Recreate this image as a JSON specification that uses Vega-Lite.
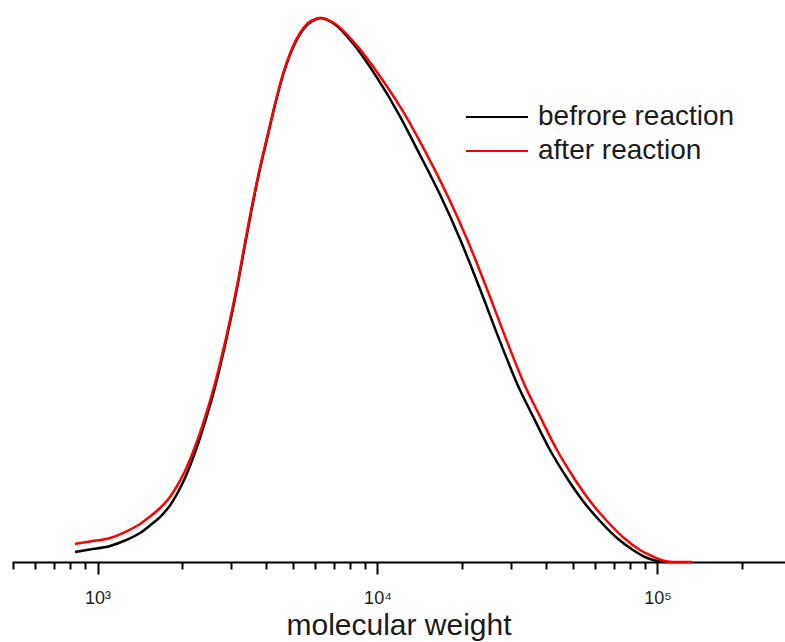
{
  "$schema": "https://vega.github.io/schema/vega-lite/v6.json",
  "width": 773,
  "height": 544,
  "autosize": {"type": "none"},
  "padding": {"left": 12, "top": 18, "right": 0, "bottom": 80},
  "background": "white",
  "config": {"view": {"stroke": null}, "font": "Liberation Sans"},
  "data": {"values": [
    {"s": "befrore reaction", "mw": 831, "v": 0.0184},
    {"s": "befrore reaction", "mw": 939.5, "v": 0.0230},
    {"s": "befrore reaction", "mw": 1108.3, "v": 0.0294},
    {"s": "befrore reaction", "mw": 1253.6, "v": 0.0395},
    {"s": "befrore reaction", "mw": 1418.4, "v": 0.0533},
    {"s": "befrore reaction", "mw": 1539.9, "v": 0.0671},
    {"s": "befrore reaction", "mw": 1671.9, "v": 0.0827},
    {"s": "befrore reaction", "mw": 1815.2, "v": 0.1039},
    {"s": "befrore reaction", "mw": 1922.8, "v": 0.125},
    {"s": "befrore reaction", "mw": 2053.5, "v": 0.1544},
    {"s": "befrore reaction", "mw": 2193.2, "v": 0.1912},
    {"s": "befrore reaction", "mw": 2323.1, "v": 0.2279},
    {"s": "befrore reaction", "mw": 2460.8, "v": 0.2693},
    {"s": "befrore reaction", "mw": 2606.6, "v": 0.3143},
    {"s": "befrore reaction", "mw": 2738.4, "v": 0.3585},
    {"s": "befrore reaction", "mw": 2876.9, "v": 0.4063},
    {"s": "befrore reaction", "mw": 3022.4, "v": 0.4577},
    {"s": "befrore reaction", "mw": 3175.3, "v": 0.5129},
    {"s": "befrore reaction", "mw": 3335.9, "v": 0.5735},
    {"s": "befrore reaction", "mw": 3504.7, "v": 0.6324},
    {"s": "befrore reaction", "mw": 3743.0, "v": 0.7059},
    {"s": "befrore reaction", "mw": 4030.5, "v": 0.7776},
    {"s": "befrore reaction", "mw": 4304.6, "v": 0.8401},
    {"s": "befrore reaction", "mw": 4597.3, "v": 0.8952},
    {"s": "befrore reaction", "mw": 4909.9, "v": 0.9375},
    {"s": "befrore reaction", "mw": 5287.1, "v": 0.9706},
    {"s": "befrore reaction", "mw": 5646.6, "v": 0.9890},
    {"s": "befrore reaction", "mw": 6080.4, "v": 0.9982},
    {"s": "befrore reaction", "mw": 6232.2, "v": 1.0},
    {"s": "befrore reaction", "mw": 6935.4, "v": 0.9908},
    {"s": "befrore reaction", "mw": 8175.2, "v": 0.9533},
    {"s": "befrore reaction", "mw": 9959, "v": 0.8903},
    {"s": "befrore reaction", "mw": 12032.5, "v": 0.8193},
    {"s": "befrore reaction", "mw": 13837.9, "v": 0.7590},
    {"s": "befrore reaction", "mw": 16719.2, "v": 0.6754},
    {"s": "befrore reaction", "mw": 19708, "v": 0.5938},
    {"s": "befrore reaction", "mw": 23231, "v": 0.5018},
    {"s": "befrore reaction", "mw": 27384, "v": 0.4055},
    {"s": "befrore reaction", "mw": 31493, "v": 0.3283},
    {"s": "befrore reaction", "mw": 35922, "v": 0.2676},
    {"s": "befrore reaction", "mw": 41312, "v": 0.2059},
    {"s": "befrore reaction", "mw": 47510, "v": 0.1544},
    {"s": "befrore reaction", "mw": 54191, "v": 0.1121},
    {"s": "befrore reaction", "mw": 62322, "v": 0.0754},
    {"s": "befrore reaction", "mw": 71673, "v": 0.0441},
    {"s": "befrore reaction", "mw": 81752, "v": 0.0221},
    {"s": "befrore reaction", "mw": 90231, "v": 0.0092},
    {"s": "befrore reaction", "mw": 97965, "v": 0.0028},
    {"s": "befrore reaction", "mw": 106361, "v": 0.0},
    {"s": "after reaction", "mw": 831, "v": 0.0331},
    {"s": "after reaction", "mw": 939.5, "v": 0.0377},
    {"s": "after reaction", "mw": 1108.3, "v": 0.0441},
    {"s": "after reaction", "mw": 1253.6, "v": 0.0551},
    {"s": "after reaction", "mw": 1418.4, "v": 0.0699},
    {"s": "after reaction", "mw": 1539.9, "v": 0.0836},
    {"s": "after reaction", "mw": 1671.9, "v": 0.0993},
    {"s": "after reaction", "mw": 1815.2, "v": 0.1195},
    {"s": "after reaction", "mw": 1922.8, "v": 0.1397},
    {"s": "after reaction", "mw": 2053.5, "v": 0.1673},
    {"s": "after reaction", "mw": 2193.2, "v": 0.2022},
    {"s": "after reaction", "mw": 2323.1, "v": 0.2371},
    {"s": "after reaction", "mw": 2460.8, "v": 0.2776},
    {"s": "after reaction", "mw": 2606.6, "v": 0.3217},
    {"s": "after reaction", "mw": 2738.4, "v": 0.3649},
    {"s": "after reaction", "mw": 2876.9, "v": 0.4118},
    {"s": "after reaction", "mw": 3022.4, "v": 0.4623},
    {"s": "after reaction", "mw": 3175.3, "v": 0.5165},
    {"s": "after reaction", "mw": 3335.9, "v": 0.5772},
    {"s": "after reaction", "mw": 3504.7, "v": 0.6360},
    {"s": "after reaction", "mw": 3743.0, "v": 0.7086},
    {"s": "after reaction", "mw": 4030.5, "v": 0.7803},
    {"s": "after reaction", "mw": 4304.6, "v": 0.8419},
    {"s": "after reaction", "mw": 4597.3, "v": 0.8971},
    {"s": "after reaction", "mw": 4909.9, "v": 0.9393},
    {"s": "after reaction", "mw": 5287.1, "v": 0.9724},
    {"s": "after reaction", "mw": 5646.6, "v": 0.9908},
    {"s": "after reaction", "mw": 6080.4, "v": 0.9991},
    {"s": "after reaction", "mw": 6232.2, "v": 1.0},
    {"s": "after reaction", "mw": 6992.7, "v": 0.9908},
    {"s": "after reaction", "mw": 8310, "v": 0.9533},
    {"s": "after reaction", "mw": 10292, "v": 0.8903},
    {"s": "after reaction", "mw": 12641, "v": 0.8193},
    {"s": "after reaction", "mw": 14658, "v": 0.7590},
    {"s": "after reaction", "mw": 17710, "v": 0.6754},
    {"s": "after reaction", "mw": 20876, "v": 0.5938},
    {"s": "after reaction", "mw": 24608, "v": 0.5018},
    {"s": "after reaction", "mw": 29007, "v": 0.4055},
    {"s": "after reaction", "mw": 33359, "v": 0.3283},
    {"s": "after reaction", "mw": 38050, "v": 0.2676},
    {"s": "after reaction", "mw": 43759, "v": 0.2059},
    {"s": "after reaction", "mw": 50325, "v": 0.1544},
    {"s": "after reaction", "mw": 57402, "v": 0.1121},
    {"s": "after reaction", "mw": 66015, "v": 0.0754},
    {"s": "after reaction", "mw": 75920, "v": 0.0441},
    {"s": "after reaction", "mw": 86597, "v": 0.0221},
    {"s": "after reaction", "mw": 97163, "v": 0.0092},
    {"s": "after reaction", "mw": 104628, "v": 0.0028},
    {"s": "after reaction", "mw": 112666, "v": 0.0},
    {"s": "after reaction", "mw": 132799, "v": 0.0}
  ]},
  "encoding": {
    "x": {
      "field": "mw", "type": "quantitative",
      "scale": {"type": "log", "domain": [495, 285400], "nice": false},
      "axis": {
        "title": "molecular weight",
        "titleFont": "Liberation Sans",
        "titleFontSize": 30,
        "titleFontWeight": "normal",
        "titleColor": "#1a1a1a",
        "titlePadding": 3,
        "values": [500, 600, 700, 800, 900, 1000, 2000, 3000, 4000, 5000, 6000, 7000, 8000, 9000, 10000, 20000, 30000, 40000, 50000, 60000, 70000, 80000, 90000, 100000, 200000],
        "labelExpr": "datum.value == 1000 ? '10³' : datum.value == 10000 ? '10⁴' : datum.value == 100000 ? '10⁵' : ''",
        "labelFontSize": 18,
        "labelColor": "#1a1a1a",
        "labelPadding": 15,
        "labelFlush": false,
        "labelOverlap": false,
        "tickColor": "black",
        "tickWidth": 2,
        "tickSize": {"condition": {"test": "datum.value == 1000 || datum.value == 10000 || datum.value == 100000", "value": 12}, "value": 7},
        "domainColor": "black",
        "domainWidth": 2,
        "grid": false
      }
    },
    "y": {
      "field": "v", "type": "quantitative",
      "scale": {"domain": [0, 1], "nice": false, "zero": true},
      "axis": null
    }
  },
  "layer": [
    {
      "transform": [{"filter": "datum.s == 'befrore reaction'"}],
      "mark": {"type": "line", "strokeWidth": 2.5, "interpolate": "monotone"},
      "encoding": {
        "color": {
          "field": "s", "type": "nominal",
          "scale": {"domain": ["befrore reaction"], "range": ["#000000"]},
          "legend": {
            "title": null, "orient": "none", "legendX": 453, "legendY": 67,
            "symbolType": "stroke", "symbolSize": 3844, "symbolStrokeWidth": 2,
            "labelFontSize": 28, "labelColor": "#1a1a1a", "labelOffset": 9, "labelLimit": 0
          }
        }
      }
    },
    {
      "transform": [{"filter": "datum.s == 'after reaction'"}],
      "mark": {"type": "line", "strokeWidth": 2.5, "interpolate": "monotone"},
      "encoding": {
        "stroke": {
          "field": "s", "type": "nominal",
          "scale": {"domain": ["after reaction"], "range": ["#ff0000"]},
          "legend": {
            "title": null, "orient": "none", "legendX": 453, "legendY": 101,
            "symbolType": "stroke", "symbolSize": 3844, "symbolStrokeWidth": 2,
            "labelFontSize": 28, "labelColor": "#1a1a1a", "labelOffset": 9, "labelLimit": 0
          }
        }
      }
    }
  ]
}
